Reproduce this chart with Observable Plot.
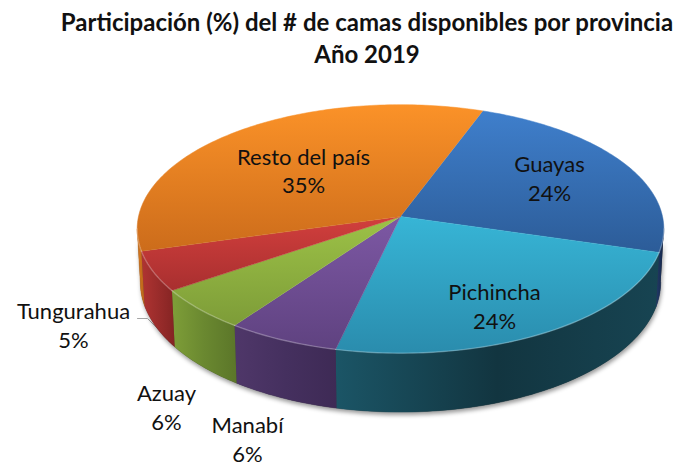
<!DOCTYPE html>
<html><head><meta charset="utf-8">
<script src="https://cdn.jsdelivr.net/npm/d3@7"></script>
<script src="https://cdn.jsdelivr.net/npm/@observablehq/plot@0.6"></script>
<style>
html,body{margin:0;padding:0;background:#fff}
#title{position:absolute;left:56px;width:622px;top:6px;height:65px;text-align:center;font:700 24px/32px Lato,sans-serif;color:#111;white-space:nowrap}
#chart{position:absolute;left:0;top:72px}
svg{display:block}
</style></head><body>
<div id="title">Participación (%) del # de camas disponibles por provincia<br>Año 2019</div>
<div id="chart"></div>
<script>
const categories = ["Guayas","Pichincha","Manabí","Azuay","Tungurahua","Resto del país"];
const values = [24, 24, 6.3, 5.5, 5.2, 35];
const topColors = [["#3f7fcc","#2c5c98"],["#37b5d6","#2a8cad"],["#7d58a4","#5f4280"],["#9dc247","#7d9c38"],["#d23f3d","#a82f2f"],["#fb9228","#cc6c1b"]];
const wallColors = [["#1f3a66","#1b3058","#16274a"],["#1b5566","#123540","#174452"],["#4f3769","#45305f","#3e2a55"],["#7e9e38","#6a8830","#5b7629"],["#b03432","#9a2c2b","#842423"],["#d97a20","#c86f1c","#b8641a"]];
const labelLayout = [[549,177],[494,305],[247,438],[166,406],[73,324],[303,169.5]];

const cx=400, cy=216, rx=262, ry=123, persp=0.1, depth=53, startDeg=20.1, shrink=0.012;
const project=(deg,r,z)=>{const a=deg*Math.PI/180,c=Math.sin(a)*r,s=-Math.cos(a)*r,w=1-persp*s;return {x:cx+rx*(1-shrink*z)*c/w,y:cy+(ry*s+z*depth)/w};};
const total=d3.sum(values);
let acc=startDeg;
const spans=values.map(v=>{const a0=acc;acc+=v/total*360;return [a0,acc];});
const arc=(a0,a1,z)=>d3.range(0,Math.ceil(a1-a0)+1).map(i=>project(Math.min(a0+i,a1),1,z));
const wallRange=[95.7,264.3];
const clip=([a0,a1])=>[Math.max(a0,wallRange[0]),Math.min(a1,wallRange[1])];
const tops=spans.map(([a0,a1])=>[project(0,0,0),...arc(a0,a1,0)]);
const band=(b0,b1)=>[...arc(b0,b1,0),...arc(b0,b1,1).reverse()];
const walls=spans.map(s=>{const [b0,b1]=clip(s);return b1>b0?band(b0,b1):null;});
const rims=spans.map(s=>{const [b0,b1]=clip(s);return b1>b0?arc(b0,b1,0):null;});
const silhouette=band(wallRange[0],wallRange[1]);
const labels=categories.map((c,i)=>({x:labelLayout[i][0],y:labelLayout[i][1],text:`${c}\n${Math.round(values[i])}%`}));
const leader=[{x:137,y:318},{x:147,y:318},{x:158,y:329}];
const line=(data,o)=>Plot.line(data,{x:"x",y:"y",curve:"linear",...o});

const plot=Plot.plot({
  width:678,height:393,margin:0,
  x:{domain:[0,678],range:[0,678],axis:null},
  y:{domain:[72,465],range:[0,393],axis:null},
  style:{background:"transparent"},
  marks:[
    line(leader,{stroke:"#a6a6a6",strokeWidth:1}),
    line(silhouette,{fill:"#333",stroke:"none",imageFilter:"drop-shadow(1px 3px 2px rgba(0,0,0,.4))"}),
    ...walls.map((w,i)=>w?line(w,{fill:`url(#wall${i})`,stroke:`url(#wall${i})`,strokeWidth:.5}):null),
    ...tops.map((t,i)=>line(t,{fill:`url(#top${i})`,stroke:`url(#top${i})`,strokeWidth:.5})),
    ...rims.map((r,i)=>r?line(r,{stroke:"#fff",strokeOpacity:.25,strokeWidth:1.4}):null),
    Plot.text(labels,{x:"x",y:"y",text:"text",fontFamily:"Lato, sans-serif",fontSize:22,lineHeight:1.3,fill:"#111"})
  ]
});
const defs=d3.select(plot).insert("defs",":first-child");
const grad=(id,cols,x2,y2)=>{const g=defs.append("linearGradient").attr("id",id).attr("x1",0).attr("y1",0).attr("x2",x2).attr("y2",y2);
  cols.forEach((col,k)=>g.append("stop").attr("offset",k/(cols.length-1)).attr("stop-color",col));};
topColors.forEach((c,i)=>grad(`top${i}`,c,0,1));
wallColors.forEach((c,i)=>grad(`wall${i}`,c,1,0));
document.getElementById("chart").append(plot);
</script>
</body></html>
